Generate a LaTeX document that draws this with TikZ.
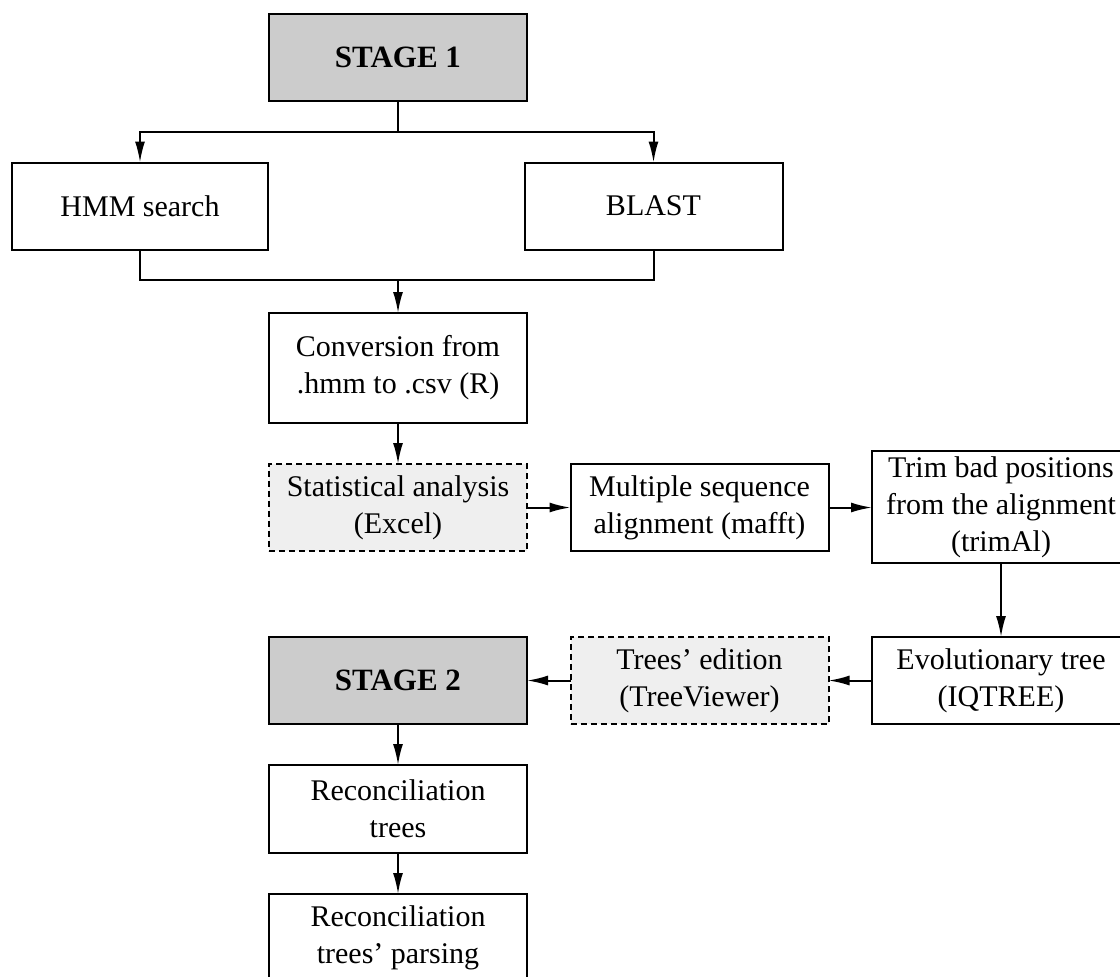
\documentclass[tikz,border=0pt]{standalone}
\usepackage{fontspec}
\setmainfont{Liberation Serif}
\usepackage{tikz}
\usetikzlibrary{arrows.meta}

\definecolor{stagegray}{RGB}{204,204,204}
\definecolor{toolgray}{RGB}{239,239,239}

\begin{document}
\begin{tikzpicture}[x=0.5pt, y=-0.5pt,
  box/.style={draw, line width=1pt, align=center, inner sep=0pt, outer sep=0pt,
    minimum width=129pt, minimum height=43.5pt, font=\fontsize{15}{18.5}\selectfont},
  stagebox/.style={box, fill=stagegray, font=\fontsize{15.5}{18.5}\selectfont\bfseries},
  toolbox/.style={box, dash pattern=on 3pt off 2pt, fill=toolgray},
  link/.style={line width=1pt},
  flow/.style={link, -{Latex[length=10.5pt, width=5pt]}}]

% Frame
\useasboundingbox (0,0) rectangle (1120,976);
\clip (0,0) rectangle (1120,976);

% Stage 1 and searches
\node[stagebox] (stage1) at (398,57.5) {STAGE 1};
\node[box, minimum width=128pt] (hmm) at (140,206) {HMM search};
\node[box] (blast) at (653.5,206) {BLAST};

% Processing row
\node[box, minimum height=55pt] (conv) at (398,368) {Conversion from\\.hmm to .csv (R)};
\node[toolbox] (stat) at (398,507.5) {Statistical analysis\\(Excel)};
\node[box] (msa) at (699.5,507.5) {Multiple sequence\\alignment (mafft)};
\node[box, minimum height=56pt] (trim) at (1001,507) {Trim bad positions\\from the alignment\\(trimAl)};

% Trees
\node[box] (evol) at (1001,680.5) {Evolutionary tree\\(IQTREE)};
\node[toolbox] (edit) at (699.5,680.5) {Trees’ edition\\(TreeViewer)};
\node[stagebox] (stage2) at (398,680.5) {STAGE 2};
\node[box, minimum height=44pt] (recon) at (398,809) {Reconciliation\\trees};
\node[box, minimum height=44pt] (parse) at (398,938) {Reconciliation\\trees’ parsing};

% Split and merge points
\coordinate (split) at (398,132);
\coordinate (merge) at (398,280);

% Connectors
\draw[link] (stage1.south) -- (split);
\draw[flow] (split) -| (hmm.north);
\draw[flow] (split) -| (blast.north);
\draw[link] (hmm.south) |- (merge) -| (blast.south);
\draw[flow] (merge) -- (conv.north);
\draw[flow] (conv) -- (stat);
\draw[flow] (stat) -- (msa);
\draw[flow] (msa.east) -- (msa.east -| trim.west);
\draw[flow] (trim) -- (evol);
\draw[flow] (evol) -- (edit);
\draw[flow] (edit) -- (stage2);
\draw[flow] (stage2) -- (recon);
\draw[flow] (recon) -- (parse);

\end{tikzpicture}
\end{document}
